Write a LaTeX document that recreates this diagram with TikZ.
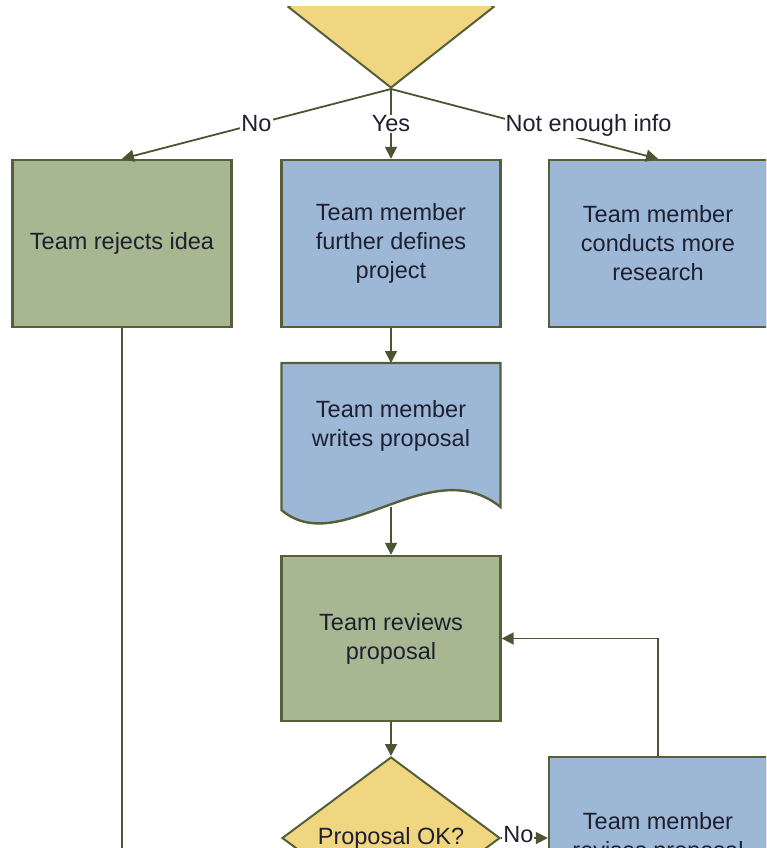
\documentclass[tikz,border=0pt]{standalone}
\usepackage{fontspec}
\setmainfont{Liberation Sans}
\usetikzlibrary{arrows.meta,shapes.geometric}
\definecolor{stepgreen}{HTML}{A6B791}
\definecolor{stepblue}{HTML}{9DB7D6}
\definecolor{askyellow}{HTML}{F0D680}
\definecolor{edgeolive}{HTML}{565E3A}
\definecolor{wireolive}{HTML}{4B5532}
\definecolor{inkcol}{HTML}{1E2030}

\begin{document}
\begin{tikzpicture}[x=1pt,y=-1pt,
    font=\fontsize{23.5}{29}\selectfont,
    box/.style={draw=edgeolive, line width=2.4pt, text=inkcol, align=center,
        minimum width=219pt, minimum height=167pt, inner sep=0pt},
    greenbox/.style={box, fill=stepgreen},
    bluebox/.style={box, fill=stepblue},
    askbox/.style={diamond, draw=edgeolive, fill=askyellow, line width=2pt,
        text=inkcol, inner sep=0pt, aspect=1.35},
    wire/.style={draw=wireolive, line width=1.8pt},
    flow/.style={wire, -{Triangle[length=12pt,width=12pt]}},
    lbl/.style={fill=white, text=inkcol, inner sep=1pt}]

\useasboundingbox (0,0) rectangle (766,848);
\clip (0,0) rectangle (766,848);

% first decision (cut off above)
\begin{scope}
\clip (0,7) rectangle (766,848);
\node[askbox, minimum width=206pt, minimum height=162pt] (ask) at (391,7) {};
\end{scope}

% outcomes
\node[greenbox] (reject) at (122,243.5) {Team rejects idea};
\node[bluebox] (define) at (391,243.5) {Team member\\further defines\\project};
\node[bluebox, minimum width=218pt] (research) at (658,243.5)
    {Team member\\conducts more\\research};

% proposal document
\filldraw[fill=stepblue, draw=edgeolive, line width=2.4pt] (281.5,363) --
    (500.5,363) -- (500.5,507) .. controls (430,450) and (340,560) ..
    (281.5,510) -- cycle;
\node[text=inkcol, align=center] (write) at (391,426)
    {Team member\\writes proposal};
\coordinate (writeTop) at (391,363);
\coordinate (writeBottom) at (391,507);

% review loop
\node[greenbox, minimum height=165pt] (review) at (391,638.5)
    {Team reviews\\proposal};
\node[askbox, minimum width=218pt, minimum height=162pt] (ok) at (391,838)
    {Proposal OK?};
\node[bluebox, minimum width=218pt, minimum height=162pt] (revise) at (658,838)
    {Team member\\revises proposal};
\coordinate (rejectEnd) at (122,870);

% connectors
\draw[flow] (ask.south) -- (reject.north) node[lbl, midway]{No};
\draw[flow] (ask.south) -- (define.north) node[lbl, midway]{Yes};
\draw[flow] (ask.south) -- (research.north)
    node[lbl, pos=0.74, yshift=15pt]{Not enough info};
\draw[flow] (define.south) -- (writeTop);
\draw[flow] (writeBottom) -- (review.north);
\draw[flow] (review.south) -- (ok.north);
\draw[flow] (ok.east) -- (revise.west) node[lbl, pos=0.37, yshift=3pt]{No};
\draw[flow] (revise.north) |- (review.east);
\draw[wire] (reject.south) -- (rejectEnd);

\end{tikzpicture}
\end{document}
